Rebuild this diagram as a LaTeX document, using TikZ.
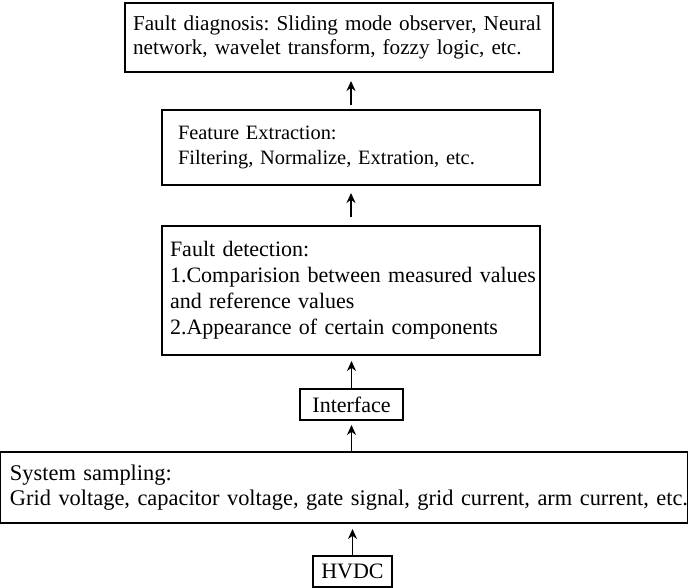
\documentclass[tikz,border=0pt]{standalone}
\usepackage{fontspec}
\setmainfont{Liberation Serif}
\usetikzlibrary{arrows.meta,positioning}
\frenchspacing
\tikzset{
  blk/.style={draw=black,line width=1pt,inner xsep=4pt,inner ysep=0pt,
    font=\fontsize{11}{13}\selectfont,align=left},
  arr/.style={-{Stealth[length=5pt,width=4.5pt]},line width=0.9pt},
}

\begin{document}
\begin{tikzpicture}[x=0.5pt,y=-0.5pt]
\useasboundingbox (0,0) rectangle (688,587);
% stages, from the top down
\node[blk,text width=206pt,minimum height=34.5pt,font=\fontsize{10.6}{12}\selectfont] (diag) at (339,37.5)
  {\mbox{Fault diagnosis: Sliding mode observer, Neural}\\\mbox{network, wavelet transform, fozzy logic, etc.}};
\node[blk,inner xsep=8pt,text width=173pt,minimum height=37.5pt,font=\fontsize{10.2}{12.5}\selectfont] (feat) at (351,147.5)
  {Feature Extraction:\\\mbox{Filtering, Normalize, Extration, etc.}};
\node[blk,text width=181pt,minimum height=64.5pt] (det) at (351,290.5)
  {Fault detection:\\\mbox{1.Comparision between measured values}\\and reference values\\\mbox{2.Appearance of certain components}};
\node[blk,align=center,minimum width=51.5pt,minimum height=15.5pt] (intf) at (351.5,404.5) {Interface};
\node[blk,inner xsep=5pt,text width=334pt,minimum height=35.5pt,font=\fontsize{11.2}{12.5}\selectfont] (samp) at (344,487.5)
  {System sampling:\\\mbox{Grid voltage, capacitor voltage, gate signal, grid current, arm current, etc.}};
\node[blk,align=center,minimum width=37.5pt,minimum height=15.5pt] (hvdc) at (352.5,571.5) {HVDC};
% flow upwards
\draw[arr,shorten >=2.5pt] (hvdc.north) -- (hvdc.north |- samp.south);
\draw[arr,shorten >=2pt] (intf.south |- samp.north) -- (intf.south);
\draw[arr,shorten >=2.5pt] (intf.north) -- (intf.north |- det.south);
\draw[arr,shorten <=4pt,shorten >=3.5pt] (det.north) -- (det.north |- feat.south);
\draw[arr,shorten <=2pt,shorten >=4pt] (feat.north) -- (feat.north |- diag.south);
\end{tikzpicture}
\end{document}
